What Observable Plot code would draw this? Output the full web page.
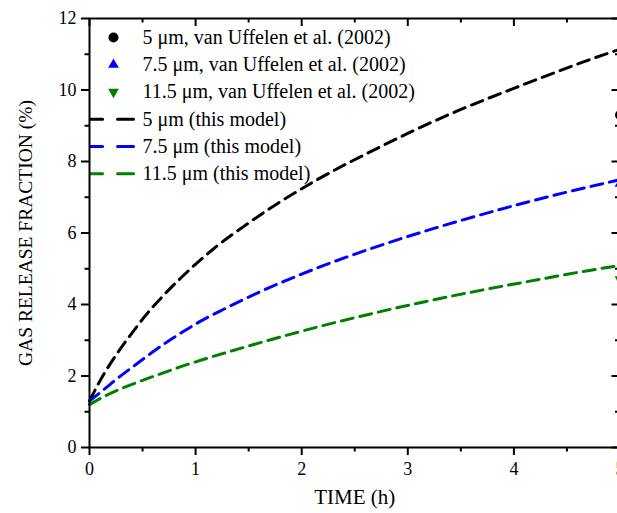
<!DOCTYPE html>
<html><head><meta charset="utf-8">
<script src="https://cdn.jsdelivr.net/npm/d3@7"></script>
<script src="https://cdn.jsdelivr.net/npm/@observablehq/plot@0.6"></script>
<style>body{margin:0;background:#fff;overflow:hidden}</style>
</head><body><div id="chart"></div>
<script>
// ---- data ----
const seriesColors = ["#000000", "#0000ff", "#008000"];

const time5 = [0, 0.1, 0.26, 0.4, 0.53, 0.69, 0.86, 1.07, 1.17, 1.49, 1.77, 2.11, 2.74, 3.37, 4.09, 4.85, 5];
const frac5 = [1.3, 1.87, 2.63, 3.2, 3.7, 4.23, 4.74, 5.31, 5.56, 6.26, 6.82, 7.43, 8.41, 9.29, 10.15, 10.99, 11.14];

const time75 = [0, 0.16, 0.25, 0.36, 0.55, 0.72, 0.86, 1.07, 1.26, 1.64, 2.11, 2.79, 3.5, 4.16, 4.91, 5];
const frac75 = [1.3, 1.68, 1.9, 2.15, 2.57, 2.93, 3.2, 3.57, 3.86, 4.4, 4.98, 5.7, 6.35, 6.89, 7.43, 7.49];

const time115 = [0, 0.18, 0.43, 0.65, 0.86, 1.07, 1.49, 2.11, 2.74, 3.47, 4.09, 4.91, 5];
const frac115 = [1.2, 1.49, 1.8, 2.04, 2.26, 2.46, 2.83, 3.34, 3.8, 4.27, 4.62, 5.05, 5.09];

const expTime = [5, 5, 5];
const expFrac = [9.3, 7.38, 4.7];
const expSymbols = ["circle", "triangle", "triangle"];
const expRotate = [0, 0, 180];
const expRadius = [5, 4, 4];

const legendLabels = [
  "5 μm, van Uffelen et al. (2002)",
  "7.5 μm, van Uffelen et al. (2002)",
  "11.5 μm, van Uffelen et al. (2002)",
  "5 μm (this model)",
  "7.5 μm (this model)",
  "11.5 μm (this model)"
];

const xMajor = [0, 1, 2, 3, 4, 5];
const xMinor = [0.5, 1.5, 2.5, 3.5, 4.5];
const yMajor = [0, 2, 4, 6, 8, 10, 12];
const yMinor = [1, 3, 5, 7, 9, 11];

// ---- layout ----
const W = 617, H = 513;
const mL = 89, mT = 18, mB = 66, mR = -2.5;
const plotW = W - mL - mR, plotH = H - mT - mB;

const curves = [
  {t: time5, f: frac5},
  {t: time75, f: frac75},
  {t: time115, f: frac115}
].map((s, i) => ({rows: s.t.map((t, j) => ({t, f: s.f[j]})), color: seriesColors[i]}));

// legend positions (data units)
const legTop = 11.47, legStep = 0.762;
const legMarkerX = 0.226, legTextX = 0.5, legLineX = [0.01, 0.415];

const marks = [];
// mirror ticks (top & right), inward
marks.push(Plot.ruleX(xMajor, {x: d => d, insetBottom: plotH - 8, stroke: "black", strokeWidth: 2}));
marks.push(Plot.ruleX(xMinor, {x: d => d, insetBottom: plotH - 4.5, stroke: "black", strokeWidth: 2}));
marks.push(Plot.ruleY(yMajor, {y: d => d, insetLeft: plotW - 8, stroke: "black", strokeWidth: 2}));
marks.push(Plot.ruleY(yMinor, {y: d => d, insetLeft: plotW - 4.5, stroke: "black", strokeWidth: 2}));

// axes
marks.push(Plot.axisX({ticks: xMajor, tickSize: 8, tickPadding: 7, strokeWidth: 2, fontSize: 18, fill: "black", label: null, tickFormat: d => String(d)}));
marks.push(Plot.axisX({ticks: xMinor, tickSize: 4.5, strokeWidth: 2, label: null, tickFormat: () => ""}));
marks.push(Plot.axisY({ticks: yMajor, tickSize: 8, tickPadding: 5, strokeWidth: 2, fontSize: 18, fill: "black", label: null, tickFormat: d => String(d)}));
marks.push(Plot.axisY({ticks: yMinor, tickSize: 4.5, strokeWidth: 2, label: null, tickFormat: () => ""}));

// model curves
curves.forEach(c => {
  marks.push(Plot.line(c.rows, {x: "t", y: "f", stroke: c.color, strokeWidth: 3, strokeDasharray: "12,7", curve: "monotone-x"}));
});

// experimental points
expTime.forEach((t, i) => {
  marks.push(Plot.dot([{t, f: expFrac[i]}], {x: "t", y: "f", symbol: expSymbols[i], r: expRadius[i], rotate: expRotate[i], fill: seriesColors[i], stroke: "none"}));
});

// legend
legendLabels.forEach((lab, i) => {
  const y = legTop - i * legStep;
  const color = seriesColors[i % 3];
  if (i < 3) {
    marks.push(Plot.dot([{x: legMarkerX, y}], {x: "x", y: "y", symbol: expSymbols[i], r: expRadius[i], rotate: expRotate[i], fill: color, stroke: "none"}));
  } else {
    marks.push(Plot.line([{x: legLineX[0], y}, {x: legLineX[1], y}], {x: "x", y: "y", stroke: color, strokeWidth: 3, strokeDasharray: "12,15,16,100"}));
  }
  marks.push(Plot.text([{x: legTextX, y, lab}], {x: "x", y: "y", text: "lab", textAnchor: "start", lineAnchor: "middle", fontSize: 20, fill: "black"}));
});

// frame
marks.push(Plot.frame({stroke: "black", strokeWidth: 2}));

// axis titles
marks.push(Plot.text(["GAS RELEASE FRACTION (%)"], {text: d => d, frameAnchor: "left", dx: -64, rotate: -90, fontSize: 19.5, textAnchor: "middle", lineAnchor: "middle", fill: "black"}));
marks.push(Plot.text(["TIME (h)"], {text: d => d, frameAnchor: "bottom", dy: 50, fontSize: 21, textAnchor: "middle", lineAnchor: "middle", fill: "black"}));

const chart = Plot.plot({
  width: W, height: H,
  marginLeft: mL, marginTop: mT, marginBottom: mB, marginRight: mR,
  style: {fontFamily: "'Liberation Serif', 'Times New Roman', serif", fontSize: "18px", color: "black", background: "white"},
  x: {domain: [0, 5]},
  y: {domain: [0, 12]},
  marks
});
document.getElementById("chart").appendChild(chart);
</script>
</body></html>
